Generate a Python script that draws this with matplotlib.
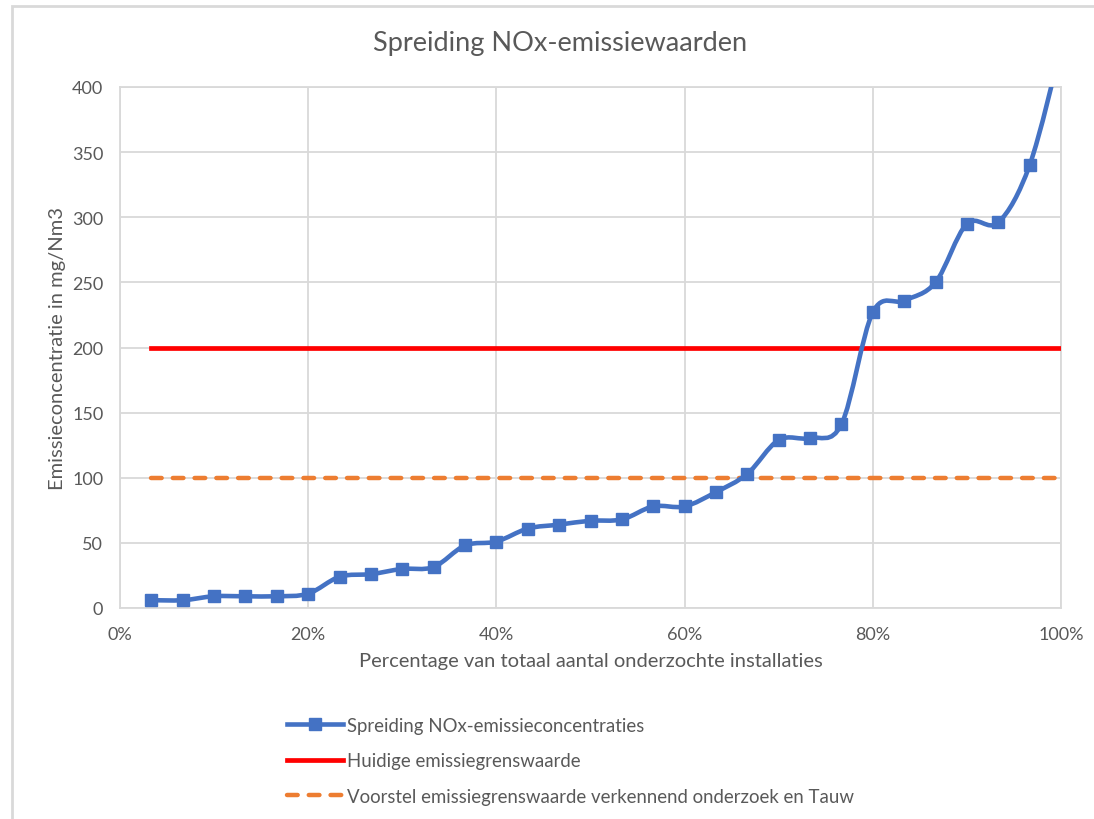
import numpy as np
import matplotlib
matplotlib.use('Agg')
import matplotlib.pyplot as plt
from matplotlib.path import Path
from matplotlib.patches import PathPatch, Rectangle
from matplotlib.lines import Line2D
from matplotlib.ticker import PercentFormatter

plt.rcParams['font.family'] = ['Lato', 'DejaVu Sans']

# share of installations (30 installations, evenly spaced)
pct = [i / 30 for i in range(1, 31)]
nox = [6, 6, 9, 9, 9, 11, 24, 26, 30, 31.5, 48, 51, 61, 64, 67, 68, 78, 78, 89,
       103, 129, 130.5, 141, 227, 236, 250, 295, 296, 340, 430]
huidig = [200] * 30
voorstel = [100] * 30

labels = ['Spreiding NOx-emissieconcentraties', 'Huidige emissiegrenswaarde',
          'Voorstel emissiegrenswaarde verkennend onderzoek en Tauw']

blue = '#4472C4'
red = '#FF0000'
orange = '#ED7D31'
grey_txt = '#595959'
grid_c = '#D9D9D9'
dash = (0, (2.4, 2.5))

fig = plt.figure(figsize=(10.94, 8.2), dpi=100)
fig.patches.append(Rectangle((12 / 1094, -0.1), 1.2, 1.1 - 7 / 820,
                             transform=fig.transFigure, fill=False,
                             edgecolor=grid_c, linewidth=2))
ax = fig.add_axes([120 / 1094, (820 - 609) / 820, 941 / 1094, 521 / 820])

# smoothed line like excel: bezier segments through the points
x = np.array(pct)
y = np.array(nox)
verts = [(x[0], y[0])]
codes = [Path.MOVETO]
n = len(x)
for i in range(n - 1):
    x0, y0 = (x[i - 1], y[i - 1]) if i > 0 else (x[i], y[i])
    x3, y3 = (x[i + 2], y[i + 2]) if i + 2 < n else (x[i + 1], y[i + 1])
    c1 = (x[i] + (x[i + 1] - x0) / 6, y[i] + (y[i + 1] - y0) / 6)
    c2 = (x[i + 1] - (x3 - x[i]) / 6, y[i + 1] - (y3 - y[i]) / 6)
    verts += [c1, c2, (x[i + 1], y[i + 1])]
    codes += [Path.CURVE4] * 3
ax.add_patch(PathPatch(Path(verts, codes), facecolor='none', edgecolor=blue,
                       linewidth=3.3, capstyle='round', joinstyle='round', zorder=4))
ax.plot(pct, nox, linestyle='none', marker='s', markersize=8, color=blue, zorder=5)

ax.plot(pct, huidig, color=red, linewidth=3.4, zorder=3)
ax.plot(pct, voorstel, color=orange, linewidth=3.2, linestyle=dash,
        dash_capstyle='round', zorder=3)

ax.set_xlim(0, 1)
ax.set_ylim(0, 400)
ax.set_xticks(np.arange(0, 1.01, 0.2))
ax.set_yticks(np.arange(0, 401, 50))
ax.xaxis.set_major_formatter(PercentFormatter(1.0, decimals=0))
ax.grid(True, color=grid_c, linewidth=1.3)
ax.set_axisbelow(True)
for s in ax.spines.values():
    s.set_color(grid_c)
    s.set_linewidth(1.3)
ax.tick_params(length=0, labelsize=13, colors=grey_txt, pad=13)
ax.tick_params(axis='y', pad=12)

ax.set_xlabel('Percentage van totaal aantal onderzochte installaties',
              fontsize=14.5, color=grey_txt, labelpad=7)
ax.set_ylabel('Emissieconcentratie in mg/Nm3', fontsize=14.5, color=grey_txt, labelpad=4)
fig.text(560 / 1094, 1 - 44 / 820, 'Spreiding NOx-emissiewaarden', fontsize=19.5,
         color=grey_txt, ha='center', va='center')

handles = [Line2D([], [], color=blue, linewidth=3.3, marker='s', markersize=8),
           Line2D([], [], color=red, linewidth=3.4),
           Line2D([], [], color=orange, linewidth=3.2, linestyle=dash,
                  dash_capstyle='round')]
leg = fig.legend(handles, labels, loc='upper left',
                 bbox_to_anchor=(270 / 1094, 1 - 701 / 820), frameon=False,
                 fontsize=13.4, labelspacing=1.0, handlelength=3.0, handletextpad=0.25)
for t in leg.get_texts():
    t.set_color(grey_txt)

fig.savefig('out.png', dpi=100)
